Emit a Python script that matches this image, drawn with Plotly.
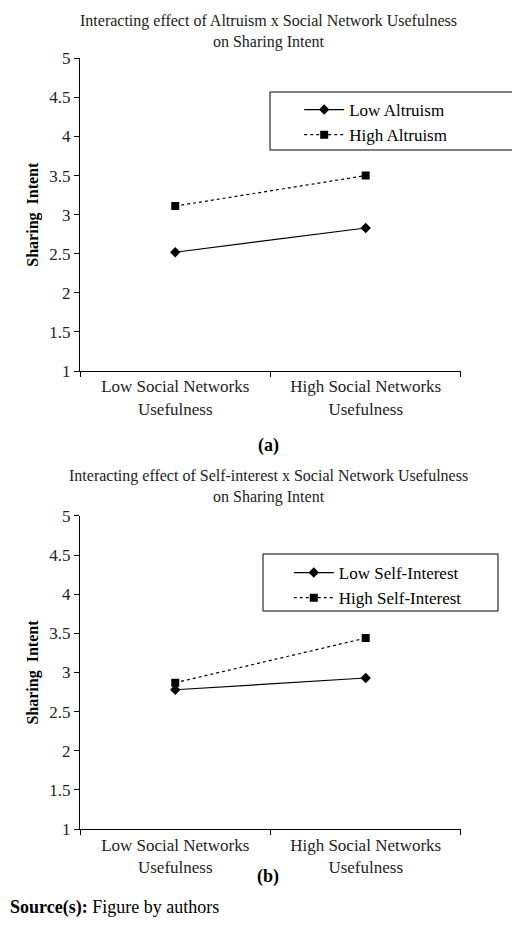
import plotly.graph_objects as go

categories = ["Low Social Networks<br>Usefulness", "High Social Networks<br>Usefulness"]
low_altruism = [2.52, 2.83]
high_altruism = [3.11, 3.50]
low_self = [2.78, 2.93]
high_self = [2.87, 3.44]

font = "Liberation Serif"
fig = go.Figure()

def add_pair(low, high, low_name, high_name, xa, ya, leg):
    fig.add_trace(go.Scatter(x=categories, y=low, name=low_name, mode="lines+markers",
                             line=dict(color="black", width=1.2),
                             marker=dict(symbol="diamond", size=8, color="black"),
                             xaxis=xa, yaxis=ya, legend=leg))
    fig.add_trace(go.Scatter(x=categories, y=high, name=high_name, mode="lines+markers",
                             line=dict(color="black", width=1.2, dash="dot"),
                             marker=dict(symbol="square", size=8, color="black"),
                             xaxis=xa, yaxis=ya, legend=leg))

add_pair(low_altruism, high_altruism, "Low Altruism", "High Altruism", "x", "y", "legend")
add_pair(low_self, high_self, "Low Self-Interest", "High Self-Interest", "x2", "y2", "legend2")

xax = dict(type="category", tickson="boundaries", range=[-0.5, 1.5], showline=True,
           linecolor="black", ticks="outside", ticklen=5, tickcolor="black",
           showgrid=False, tickfont=dict(size=17, color="#222"), automargin=False)
yax = dict(range=[1, 5], dtick=0.5, showline=True, linecolor="black", ticks="outside",
           ticklen=5, tickcolor="black", showgrid=False, zeroline=False,
           tickfont=dict(size=17, color="#222"), automargin=False,
           title=dict(text="<b>Sharing  Intent</b>", font=dict(size=16), standoff=6))

leg = dict(bgcolor="rgba(0,0,0,0)", font=dict(size=17, family=font), tracegroupgap=4,
           xanchor="left", yanchor="top", itemwidth=40)

fig.update_layout(
    width=520, height=931, margin=dict(l=0, r=0, t=0, b=0, autoexpand=False),
    paper_bgcolor="white", plot_bgcolor="white",
    font=dict(family=font, color="black"),
    xaxis=dict(xax, domain=[0.1385, 0.871], anchor="y"),
    yaxis=dict(yax, domain=[0.610, 0.946], anchor="x"),
    xaxis2=dict(xax, domain=[0.1385, 0.871], anchor="y2"),
    yaxis2=dict(yax, domain=[0.118, 0.4544], anchor="x2"),
    legend=dict(leg, x=0.56, y=1-84/931),
    legend2=dict(leg, x=0.54, y=1-547/931),
    shapes=[
        dict(type="rect", xref="paper", yref="paper", x0=262/520, x1=519/520,
             y0=1-142/931, y1=1-84/931, line=dict(color="black", width=1)),
        dict(type="rect", xref="paper", yref="paper", x0=255/520, x1=490/520,
             y0=1-603/931, y1=1-546/931, line=dict(color="black", width=1)),
    ],
    annotations=[
        dict(text="Interacting effect of Altruism x Social Network Usefulness<br>on Sharing Intent",
             x=0.5, y=1-2/931, xref="paper", yref="paper", yanchor="top", showarrow=False,
             font=dict(size=16, color="#222")),
        dict(text="<b>(a)</b>", x=0.5, y=1-437/931, xref="paper", yref="paper",
             showarrow=False, font=dict(size=18)),
        dict(text="Interacting effect of Self-interest x Social Network Usefulness<br>on Sharing Intent",
             x=0.5, y=1-457/931, xref="paper", yref="paper", yanchor="top", showarrow=False,
             font=dict(size=16, color="#222")),
        dict(text="<b>(b)</b>", x=0.5, y=1-881/931, xref="paper", yref="paper",
             showarrow=False, font=dict(size=18)),
        dict(text="<b>Source(s):</b> Figure by authors", x=0.0, y=1-912/931, xref="paper",
             yref="paper", xanchor="left", showarrow=False, font=dict(size=18)),
    ],
)

fig.write_html("out.html")
